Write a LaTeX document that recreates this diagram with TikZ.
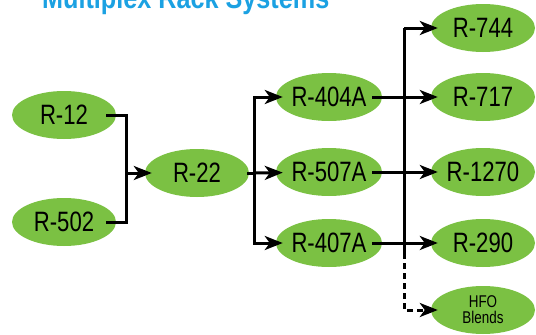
\documentclass[tikz,border=0pt]{standalone}
\usepackage{fontspec}
\setmainfont{Liberation Sans}
\newfontfamily\labfont[FakeStretch=0.79]{Liberation Sans}
\newfontfamily\titlefont[FakeStretch=0.84]{Liberation Sans}
\usetikzlibrary{shapes.geometric,arrows.meta}
\definecolor{leaf}{HTML}{7BC143}
\definecolor{sky}{HTML}{1BA1E2}
\tikzset{
  blob/.style={ellipse, fill=leaf, minimum width=104pt, minimum height=48pt, inner sep=0pt,
    font=\labfont\fontsize{28}{30}\selectfont, text=black},
  small/.style={blob, font=\labfont\fontsize{17}{16}\selectfont, align=center},
  wire/.style={line width=3pt, draw=black},
  arr/.style={wire, -{Stealth[length=18pt, width=14pt, inset=5pt]}, shorten >=-7pt},
}
\begin{document}
\begin{tikzpicture}[x=1pt, y=-1pt]
\useasboundingbox (0,0) rectangle (536,335);
\clip (0,0) rectangle (536,335);
\node[anchor=base west, inner sep=0pt, text=sky, font=\titlefont\bfseries\fontsize{30}{32}\selectfont] (title) at (42,8) {Multiplex Rack Systems};
\node[blob] (r12) at (64,115) {R-12};
\node[blob] (r502) at (64,222) {R-502};
\node[blob] (r22) at (197,173) {R-22};
\node[blob] (r404) at (329,97) {R-404A};
\node[blob] (r507) at (329,172) {R-507A};
\node[blob] (r407) at (329,243) {R-407A};
\node[blob] (r744) at (483,28) {R-744};
\node[blob] (r717) at (483,97) {R-717};
\node[blob] (r1270) at (483,172) {R-1270};
\node[blob] (r290) at (483,243) {R-290};
\node[small] (hfo) at (483,310) {HFO\\Blends};
\coordinate (j1) at (126,173);
\coordinate (j2) at (254,173);
\coordinate (vtop) at (404,28);
\coordinate (vbot) at (404,253);
% left merge
\draw[wire] ([xshift=-10pt]r12.east) -| (j1) |- ([xshift=-10pt]r502.east);
\draw[arr] (j1) -- (r22);
% split after R-22
\draw[wire] ([xshift=-2pt]r22.east) -- (j2);
\draw[arr] (j2) |- (r404);
\draw[arr] (j2) -- (r507);
\draw[arr] (j2) |- (r407);
% right bus
\draw[wire] (vtop) -- (vbot);
\draw[arr] (vtop) -- (r744);
\draw[arr] ([xshift=-10pt]r404.east) -- (r717);
\draw[arr] ([xshift=-10pt]r507.east) -- (r1270);
\draw[arr] ([xshift=-10pt]r407.east) -- (r290);
\draw[arr, dash pattern=on 6pt off 4pt] (vbot) |- (hfo);
\end{tikzpicture}
\end{document}
